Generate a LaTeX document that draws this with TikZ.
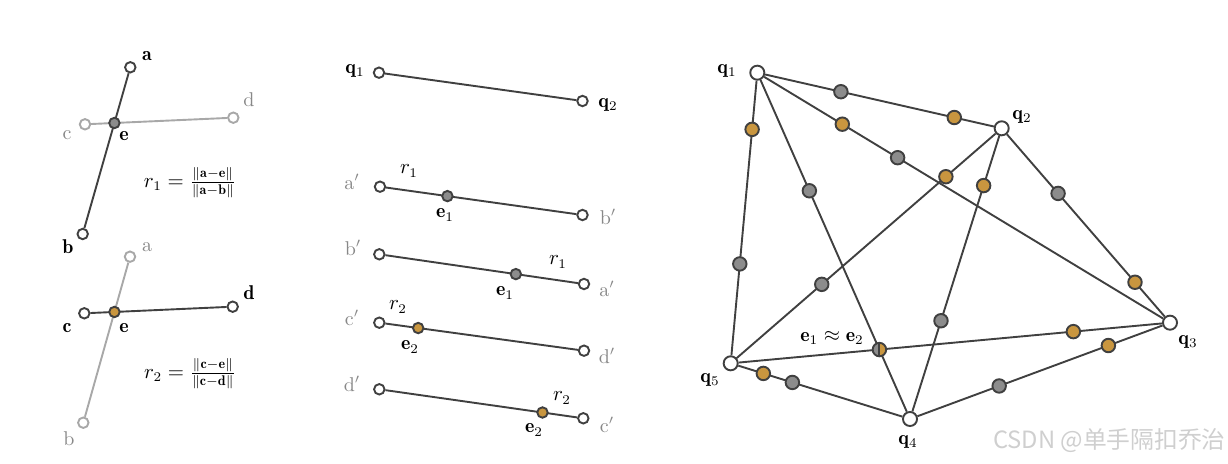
\documentclass[tikz,border=0pt]{standalone}
\usepackage{fontspec}
\newfontfamily\cjk{Noto Sans CJK SC}
\usetikzlibrary{calc}
\definecolor{dotgray}{HTML}{8C8C8C}
\definecolor{dotorange}{HTML}{C9963F}
\definecolor{linedark}{HTML}{404040}
\definecolor{lightline}{HTML}{A8A8A8}
\definecolor{labelgray}{HTML}{888888}
\definecolor{wmark}{HTML}{CFCFCF}
\begin{document}
\begin{tikzpicture}[x=0.526pt,y=-0.526pt,
  font=\fontsize{10.5}{12.6}\selectfont,
  pt/.style={circle,draw=linedark,line width=1pt,fill=white,inner sep=0pt,minimum size=5.5pt},
  ptlight/.style={pt,draw=lightline},
  gdot/.style={pt,fill=dotgray},
  odot/.style={pt,fill=dotorange},
  bpt/.style={pt,minimum size=7.4pt},
  bg/.style={pt,minimum size=7.1pt,fill=dotgray},
  bo/.style={pt,minimum size=7.1pt,fill=dotorange},
  seg/.style={draw=linedark,line width=1pt},
  seglight/.style={draw=lightline,line width=1pt},
  lbl/.style={inner sep=0pt},
  glbl/.style={lbl,text=labelgray}]
\useasboundingbox (0,0) rectangle (1228,464);

% ---------- left, top ----------
\node[pt] (a1) at (130.3,67.3) {};
\node[pt] (b1) at (82.7,234) {};
\node[ptlight] (c1) at (85,124.3) {};
\node[ptlight] (d1) at (233.3,117.7) {};
\draw[seglight] (c1) -- (d1);
\draw[seg] (a1) -- (b1);
\node[gdot] (e1) at (intersection of a1--b1 and c1--d1) {};
\node[lbl] (la1) at (147,56) {$\mathbf{a}$};
\node[lbl] (lb1) at (68,247) {$\mathbf{b}$};
\node[glbl] (lc1) at (67,135) {$\mathrm{c}$};
\node[glbl] (ld1) at (249,100) {$\mathrm{d}$};
\node[lbl] (le1) at (124,136) {$\mathbf{e}$};
\node[lbl] (f1) at (190,183) {$r_1 = \frac{\|\mathbf{a}-\mathbf{e}\|}{\|\mathbf{a}-\mathbf{b}\|}$};

% ---------- left, bottom ----------
\node[ptlight] (a2) at (130,256.7) {};
\node[ptlight] (b2) at (83.3,422.7) {};
\node[pt] (c2) at (84.3,313.3) {};
\node[pt] (d2) at (232.7,306.7) {};
\draw[seglight] (a2) -- (b2);
\draw[seg] (c2) -- (d2);
\node[odot] (e2) at (intersection of a2--b2 and c2--d2) {};
\node[glbl] (la2) at (147,247) {$\mathrm{a}$};
\node[glbl] (lb2) at (69,439) {$\mathrm{b}$};
\node[lbl] (lc2) at (67,328) {$\mathbf{c}$};
\node[lbl] (ld2) at (249,293) {$\mathbf{d}$};
\node[lbl] (le2) at (124,328) {$\mathbf{e}$};
\node[lbl] (f2) at (190,374) {$r_2 = \frac{\|\mathbf{c}-\mathbf{e}\|}{\|\mathbf{c}-\mathbf{d}\|}$};

% ---------- middle ----------
\node[pt] (mq1) at (379,72.7) {};
\node[pt] (mq2) at (582.5,101) {};
\draw[seg] (mq1) -- (mq2);
\node[lbl] (lmq1) at (355,71) {$\mathbf{q}_1$};
\node[lbl] (lmq2) at (608,105) {$\mathbf{q}_2$};

\node[pt] (ma1) at (380,186.7) {};
\node[pt] (mb1) at (582.5,215) {};
\draw[seg] (ma1) -- (mb1);
\node[gdot] (me1) at ($(ma1)!0.333!(mb1)$) {};
\node[glbl] (lma1) at (352,182) {$\mathrm{a}'$};
\node[glbl] (lmb1) at (608,217) {$\mathrm{b}'$};
\node[lbl] (lmr1) at (409,171) {$r_1$};
\node[lbl] (lme1) at (445,215) {$\mathbf{e}_1$};

\node[pt] (mb2) at (379.3,254.3) {};
\node[pt] (ma2) at (584,284) {};
\draw[seg] (mb2) -- (ma2);
\node[gdot] (me2) at ($(ma2)!0.333!(mb2)$) {};
\node[glbl] (lmb2) at (353,248) {$\mathrm{b}'$};
\node[glbl] (lma2) at (607,289) {$\mathrm{a}'$};
\node[lbl] (lmr2) at (558,262) {$r_1$};
\node[lbl] (lme2) at (505,293) {$\mathbf{e}_1$};

\node[pt] (mc3) at (379.3,322.7) {};
\node[pt] (md3) at (584,350.7) {};
\draw[seg] (mc3) -- (md3);
\node[odot] (me3) at ($(mc3)!0.19!(md3)$) {};
\node[glbl] (lmc3) at (352,318) {$\mathrm{c}'$};
\node[glbl] (lmd3) at (607,356) {$\mathrm{d}'$};
\node[lbl] (lmr3) at (398,307) {$r_2$};
\node[lbl] (lme3) at (410,347) {$\mathbf{e}_2$};

\node[pt] (md4) at (379.3,389.3) {};
\node[pt] (mc4) at (583.3,418.3) {};
\draw[seg] (md4) -- (mc4);
\node[odot] (me4) at ($(mc4)!0.2!(md4)$) {};
\node[glbl] (lmd4) at (352,384) {$\mathrm{d}'$};
\node[glbl] (lmc4) at (607,425) {$\mathrm{c}'$};
\node[lbl] (lmr4) at (562,398) {$r_2$};
\node[lbl] (lme4) at (534,430) {$\mathbf{e}_2$};

% ---------- right ----------
\node[bpt] (q1) at (757.3,72.7) {};
\node[bpt] (q2) at (1001.7,128.3) {};
\node[bpt] (q3) at (1170,322.7) {};
\node[bpt] (q4) at (910,419) {};
\node[bpt] (q5) at (730.7,363.3) {};
\draw[seg] (q1) -- (q2);
\draw[seg] (q1) -- (q5);
\draw[seg] (q1) -- (q4);
\draw[seg] (q1) -- (q3);
\draw[seg] (q2) -- (q5);
\draw[seg] (q2) -- (q4);
\draw[seg] (q2) -- (q3);
\draw[seg] (q5) -- (q3);
\draw[seg] (q5) -- (q4);
\draw[seg] (q4) -- (q3);

\node[bg] (g12) at ($(q1)!0.342!(q2)$) {};
\node[bo] (o12) at ($(q1)!0.806!(q2)$) {};
\node[bo] (o15) at ($(q1)!0.195!(q5)$) {};
\node[bg] (g15) at ($(q1)!0.658!(q5)$) {};
\node[bg] (g14) at ($(q1)!0.341!(q4)$) {};
\node[bo] (o13) at ($(q1)!0.206!(q3)$) {};
\node[bg] (g13) at ($(q1)!0.340!(q3)$) {};
\node[bo] (o25) at ($(q2)!0.206!(q5)$) {};
\node[bg] (g25) at ($(q2)!0.664!(q5)$) {};
\node[bo] (o24) at ($(q2)!0.197!(q4)$) {};
\node[bg] (g24) at ($(q2)!0.662!(q4)$) {};
\node[bg] (g23) at ($(q2)!0.335!(q3)$) {};
\node[bo] (o23) at ($(q2)!0.792!(q3)$) {};
\node[bo] (o53) at ($(q5)!0.780!(q3)$) {};
\node[bo] (o54) at ($(q5)!0.182!(q4)$) {};
\node[bg] (g54) at ($(q5)!0.344!(q4)$) {};
\node[bg] (g43) at ($(q4)!0.343!(q3)$) {};
\node[bo] (o43) at ($(q4)!0.763!(q3)$) {};
\node[pt,minimum size=7.1pt,fill=none,
  path picture={
    \fill[dotgray] (path picture bounding box.south west) rectangle (path picture bounding box.north);
    \fill[dotorange] (path picture bounding box.south) rectangle (path picture bounding box.north east);
    \draw[linedark,line width=1pt] (path picture bounding box.south) -- (path picture bounding box.north);
  }] (h) at (intersection of q1--q4 and q5--q3) {};

\node[lbl] (lq1) at (727,71) {$\mathbf{q}_1$};
\node[lbl] (lq2) at (1022,117) {$\mathbf{q}_2$};
\node[lbl] (lq3) at (1188,342) {$\mathbf{q}_3$};
\node[lbl] (lq4) at (908,442) {$\mathbf{q}_4$};
\node[lbl] (lq5) at (710,380) {$\mathbf{q}_5$};
\node[lbl] (lh) at (832,338) {$\mathbf{e}_1 \approx \mathbf{e}_2$};

% watermark
\node[lbl,text=wmark,anchor=east] (wm) at (1226,441) {\cjk\fontsize{12.5}{14}\selectfont CSDN @单手隔扣乔治};
\end{tikzpicture}
\end{document}
